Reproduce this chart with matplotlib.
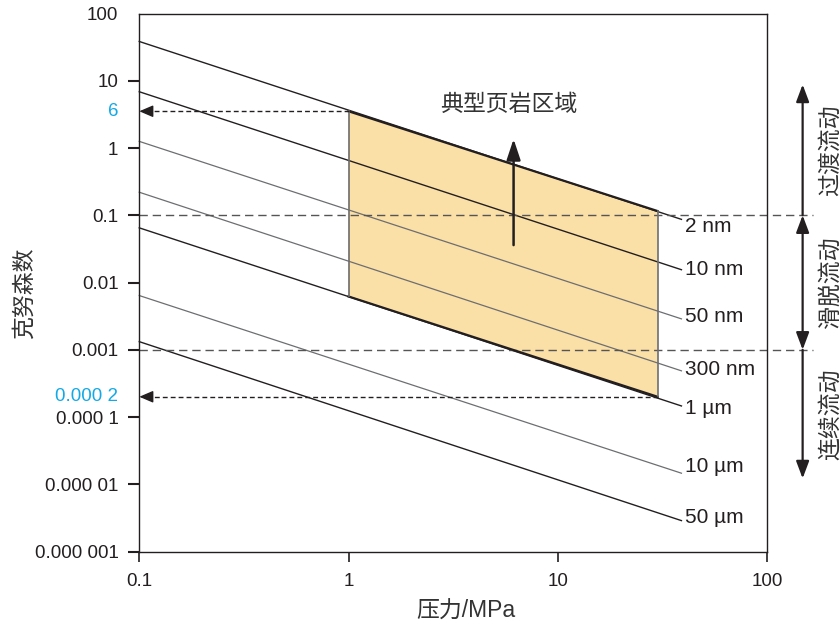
import numpy as np
import matplotlib
matplotlib.use("Agg")
import matplotlib.pyplot as plt
from matplotlib.patches import Polygon

plt.rcParams['font.family'] = ['Liberation Sans', 'Noto Sans CJK SC']
CJK = ['Noto Sans CJK SC', 'DejaVu Sans']
MIXED = ['Liberation Sans', 'Noto Sans CJK SC']

# pore-size lines: Knudsen number read at P = 0.1 MPa and at the line end
pore_labels = ["2 nm", "10 nm", "50 nm", "300 nm", "1 µm", "10 µm", "50 µm"]
kn_start = [38.4, 6.87, 1.255, 0.22, 0.065, 0.0064, 0.00132]
kn_end = [0.0869, 0.0155, 0.00288, 0.000486, 0.000146, 1.46e-5, 2.88e-6]
p_start = 0.1
p_end = 39.0
line_dark = [True, True, False, False, True, False, True]

# typical shale region (pressure, Kn)
shale_p = [1.0, 30.0, 30.0, 1.0]
shale_kn = [3.52, 0.1155, 0.0002, 0.0062]

# flow-regime boundaries
kn_bounds = [0.1, 0.001]
regime_names = ["过渡流动", "滑脱流动", "连续流动"]
regime_top = [8.8, 0.1, 0.001]
regime_bottom = [0.1, 0.001, 1.22e-5]

y_ticks = [1e-6, 1e-5, 1e-4, 1e-3, 1e-2, 0.1, 1, 10, 100]
y_ticklabels = ["0.000 001", "0.000 01", "0.000 1", "0.001", "0.01", "0.1", "1", "10", "100"]
x_ticks = [0.1, 1, 10, 100]
x_ticklabels = ["0.1", "1", "10", "100"]

DARK = '#231f20'
GRAY = '#6d6e71'
BLUE = '#12a9e6'
TXT = '#333333'

fig = plt.figure(figsize=(8.4, 6.26), dpi=100)
ax = fig.add_axes([0.1658, 0.119, 0.7473, 0.8594])
ax.set_xscale('log')
ax.set_yscale('log')
ax.set_xlim(0.1, 100)
ax.set_ylim(1e-6, 100)

# shale region
poly = Polygon(list(zip(shale_p, shale_kn)), closed=True, facecolor='#fadfa6',
               edgecolor='none', zorder=1)
ax.add_patch(poly)
ax.plot([shale_p[0], shale_p[1]], [shale_kn[0], shale_kn[1]], color=DARK, lw=1.6, zorder=3)
ax.plot([shale_p[3], shale_p[2]], [shale_kn[3], shale_kn[2]], color=DARK, lw=1.6, zorder=3)
ax.plot([shale_p[0], shale_p[3]], [shale_kn[0], shale_kn[3]], color=GRAY, lw=1.2, zorder=3)
ax.plot([shale_p[1], shale_p[2]], [shale_kn[1], shale_kn[2]], color=GRAY, lw=1.2, zorder=3)

# pore lines with labels
label_dy = [-5, 0, 2, 1, -2, 5, 2]
for lab, k0, k1, dark, dy in zip(pore_labels, kn_start, kn_end, line_dark, label_dy):
    ax.plot([p_start, p_end], [k0, k1], color=DARK if dark else GRAY,
            lw=1.0 if dark else 0.9, zorder=2, clip_on=False)
    ax.annotate(lab, xy=(p_end, k1), xytext=(2.5, dy), textcoords='offset points',
                ha='left', va='center', fontsize=15, color=DARK, annotation_clip=False)

# regime boundaries (dashed, extending past the right spine)
for kb in kn_bounds:
    ax.plot([0.1, 165], [kb, kb], color='#555555', lw=1.0, dashes=(6, 3.5),
            clip_on=False, zorder=2)

# dashed arrows to the y axis
for p0, k in [(shale_p[0], shale_kn[0]), (shale_p[1], shale_kn[2])]:
    ax.plot([p0, 0.108], [k, k], color=DARK, lw=1.0, dashes=(3.5, 2.2), zorder=4)
    ax.annotate('', xy=(0.1, k), xytext=(0.115, k),
                arrowprops=dict(arrowstyle='-|>,head_length=0.7,head_width=0.3',
                                color=DARK, lw=1.0, mutation_scale=12,
                                shrinkA=0, shrinkB=0))
for lab, k in [("6", shale_kn[0]), ("0.000 2", shale_kn[2])]:
    ax.annotate(lab, xy=(0, k), xycoords=('axes fraction', 'data'), xytext=(-15, 0),
                textcoords='offset points', ha='right', va='center', fontsize=13.5, color=BLUE)

# arrow into the shale region
ax.annotate('', xy=(6.15, 1.36), xytext=(6.15, 0.036),
            arrowprops=dict(arrowstyle='-|>,head_length=0.9,head_width=0.3',
                            color=DARK, lw=1.8, mutation_scale=14, shrinkA=0, shrinkB=0),
            zorder=5)
ax.text(5.8, 4.4, "典型页岩区域", fontsize=16.5, color=TXT, ha='center', va='center', family=CJK)

# flow regime arrows on the right
arrow_px = 148
for i, (name, top, bot) in enumerate(zip(regime_names, regime_top, regime_bottom)):
    if i == 0:
        st, xy, xyt = '-|>', (arrow_px, top), (arrow_px, bot)
    elif i == 1:
        st, xy, xyt = '<|-|>', (arrow_px, bot), (arrow_px, top)
    else:
        st, xy, xyt = '-|>', (arrow_px, bot), (arrow_px, top)
    ax.annotate('', xy=xy, xytext=xyt, annotation_clip=False,
                arrowprops=dict(arrowstyle=st + ',head_length=0.8,head_width=0.3',
                                color=DARK, lw=1.6, mutation_scale=13,
                                shrinkA=0, shrinkB=0))
    ymid = np.sqrt(top * bot)
    ax.text(200, ymid, name, rotation=90, fontsize=16.5, color=TXT, ha='center', va='center',
            family=CJK, clip_on=False)

# axes styling
ax.set_yticks(y_ticks)
ax.set_yticklabels(y_ticklabels)
ax.set_xticks(x_ticks)
ax.set_xticklabels(x_ticklabels)
ax.minorticks_off()
ax.tick_params(axis='y', direction='out', length=8, width=1.5, pad=7, labelsize=13.5,
               colors=DARK)
ax.tick_params(axis='x', direction='out', length=7.5, width=1.2, pad=8, labelsize=13.5,
               colors=DARK)
ax.yaxis.get_major_ticks()[-1].tick1line.set_visible(False)
for s in ax.spines.values():
    s.set_color(DARK)
    s.set_linewidth(1.0)

fig.text(466 / 840, 1 - 611 / 626, "压力/MPa", fontsize=16.5, color=TXT, ha='center',
         va='center', family=MIXED)
fig.text(24 / 840, 1 - 293 / 626, "克努森数", fontsize=16.5, color=TXT, ha='center',
         va='center', rotation=90, family=CJK)

fig.savefig("out.png", dpi=100)
